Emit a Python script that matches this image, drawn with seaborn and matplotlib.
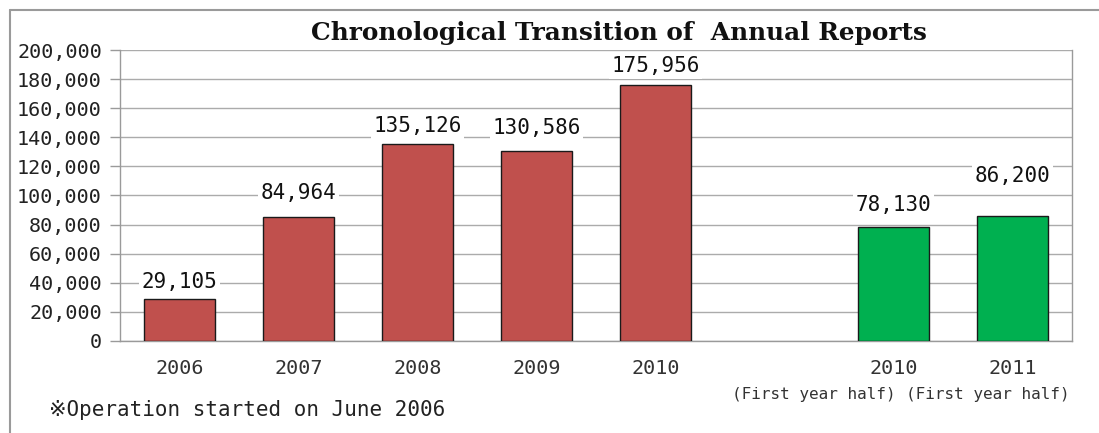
import pandas as pd
import matplotlib
matplotlib.use("Agg")
import matplotlib.pyplot as plt
import seaborn as sns
from matplotlib.lines import Line2D
from matplotlib.ticker import MultipleLocator, FuncFormatter

# -------------------------------
# DATA
# -------------------------------
periods = ["2006", "2007", "2008", "2009", "2010",
           "2010 (First year half)", "2011 (First year half)"]
reports = [29105, 84964, 135126, 130586, 175956, 78130, 86200]
kinds = ["annual", "annual", "annual", "annual", "annual", "half", "half"]

# empty slot between the annual and half-year bars
slot_order = ["2006", "2007", "2008", "2009", "2010", "gap",
              "2010 (First year half)", "2011 (First year half)"]
tick_labels = ["2006", "2007", "2008", "2009", "2010", "", "2010", "2011"]

palette = {"annual": "#C0504D", "half": "#00B050"}
label_offsets = [17, 24, 18, 23, 19, 22, 40]  # px above bar top

df = pd.DataFrame({"period": periods, "reports": reports, "kind": kinds})

# -------------------------------
# PLOT
# -------------------------------
sns.set_theme(style="white")
MONO = ["DejaVu Sans Mono", "DejaVu Sans", "Noto Sans CJK JP"]
plt.rcParams["font.family"] = MONO

fig = plt.figure(figsize=(10.99, 4.33), dpi=100)
ax = fig.add_axes([0.1092, 0.2125, 0.8662, 0.672])

sns.barplot(data=df, x="period", y="reports", hue="kind", order=slot_order,
            palette=palette, dodge=False, width=0.59, legend=False,
            edgecolor="#1a1a1a", linewidth=1.0, saturation=1, ax=ax, zorder=3)

ax.set_ylim(0, 200000)
ax.set_xlim(-0.5, len(slot_order) - 0.5)
ax.yaxis.set_major_locator(MultipleLocator(20000))
ax.yaxis.set_major_formatter(FuncFormatter(lambda v, p: f"{int(v):,}"))
ax.grid(axis="y", color="#ABABAB", linewidth=1.0, zorder=0)
ax.set_axisbelow(True)

for side in ["left", "bottom", "right", "top"]:
    ax.spines[side].set_color("#9A9A9A")
    ax.spines[side].set_linewidth(1.0)
ax.spines["top"].set_visible(False)

ax.set_xticks(range(len(slot_order)))
ax.set_xticklabels(tick_labels)
ax.tick_params(axis="y", which="major", left=True, length=7, width=1.0,
               color="#9A9A9A", labelsize=14.5, pad=6, labelcolor="#222222")
ax.tick_params(axis="x", length=0, labelsize=14.5, pad=13, labelcolor="#333333")
ax.set_xlabel("")
ax.set_ylabel("")

# value labels with white background over the gridlines
for i, (p, v) in enumerate(zip(periods, reports)):
    xpos = slot_order.index(p)
    ax.annotate(f"{v:,}", (xpos, v), xytext=(0, label_offsets[i] * 0.72),
                textcoords="offset points", ha="center", va="center",
                fontsize=15, color="#111111", zorder=5,
                bbox=dict(facecolor="white", edgecolor="none", pad=2))

# half-year captions under the tick labels
trans = ax.get_xaxis_transform()
ax.text(5.33, -0.185, "(First year half)", transform=trans, ha="center",
        va="center", fontsize=11.5, color="#333333")
ax.text(6.79, -0.185, "(First year half)", transform=trans, ha="center",
        va="center", fontsize=11.5, color="#333333")

fig.text(0.5635, 0.924, "Chronological Transition of  Annual Reports",
         ha="center", va="center", fontsize=17.8, fontweight="bold",
         family="DejaVu Serif", color="#111111")

fig.text(0.045, 0.052, "※Operation started on June 2006", ha="left",
         va="center", fontsize=15, color="#222222")

# outer chart border (only left and top visible in the crop)
fig.add_artist(Line2D([0.0095, 0.0095], [0.0, 0.977], transform=fig.transFigure,
                      color="#9A9A9A", linewidth=1.5))
fig.add_artist(Line2D([0.0095, 1.0], [0.977, 0.977], transform=fig.transFigure,
                      color="#9A9A9A", linewidth=1.5))

fig.savefig("out.png", dpi=100)
plt.close(fig)
